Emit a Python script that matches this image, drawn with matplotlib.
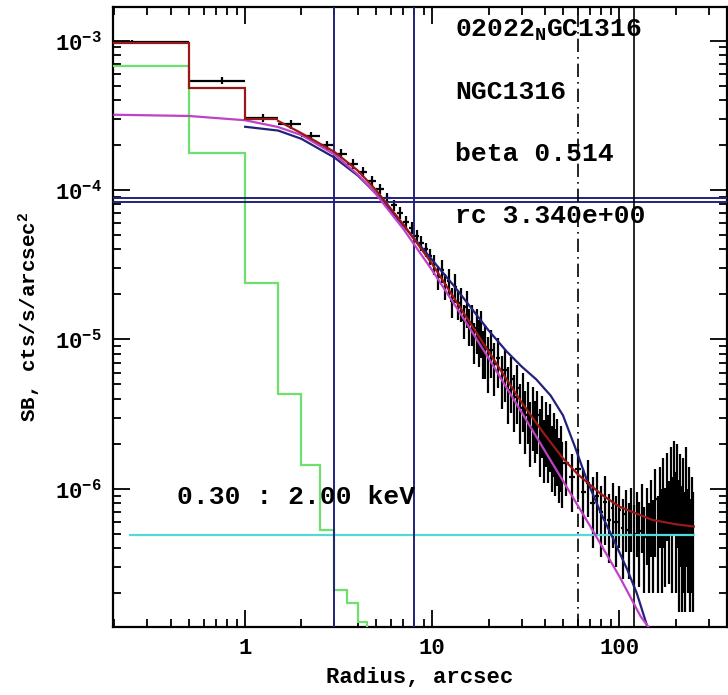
import numpy as np
import matplotlib
matplotlib.use('Agg')
import matplotlib.pyplot as plt
from matplotlib.ticker import FixedLocator, FixedFormatter, NullFormatter, LogLocator

plt.rcParams['font.family'] = ['Liberation Mono', 'DejaVu Sans']
plt.rcParams['font.weight'] = 'bold'
plt.rcParams['axes.labelweight'] = 'bold'
plt.rcParams['mathtext.fontset'] = 'custom'
plt.rcParams['mathtext.rm'] = 'Liberation Mono:bold'
plt.rcParams['mathtext.it'] = 'Liberation Mono:bold'
plt.rcParams['mathtext.bf'] = 'Liberation Mono:bold'

# --- surface brightness data (radius [arcsec], SB, error) ---
r_in = [0.25, 0.75, 1.25, 1.75, 2.25, 2.75, 3.25, 3.75, 4.25, 4.75,
        5.25, 5.75, 6.25, 6.75, 7.25, 7.75, 8.25, 8.75, 9.25, 9.75]
sb_in = [9.8e-4, 5.4e-4, 3.05e-4, 2.75e-4, 2.3e-4, 2.0e-4, 1.75e-4, 1.5e-4, 1.33e-4, 1.15e-4,
         1.02e-4, 8.8e-5, 7.9e-5, 7.0e-5, 6.1e-5, 5.6e-5, 4.9e-5, 4.4e-5, 4.0e-5, 3.6e-5]
err_in = [3e-5, 3e-5, 2e-5, 1.8e-5, 1.5e-5, 1.4e-5, 1.2e-5, 1.1e-5, 1.0e-5, 9e-6,
          8e-6, 7.5e-6, 7e-6, 6.5e-6, 6e-6, 5.5e-6, 5e-6, 5e-6, 4.5e-6, 4.5e-6]

r_mid = [10.25, 10.75, 11.25, 11.75, 12.25, 12.75, 13.25, 13.75, 14.25, 14.75,
         15.25, 15.75, 16.25, 16.75, 17.25, 17.75, 18.25, 18.75, 19.25, 19.75]
sb_mid = [3.2e-5, 2.6e-5, 2.9e-5, 2.3e-5, 2.45e-5, 1.8e-5, 2.25e-5, 1.75e-5, 1.75e-5, 1.35e-5,
          1.65e-5, 1.25e-5, 1.3e-5, 9.8e-6, 1.2e-5, 1.0e-5, 1.15e-5, 8.4e-6, 8.9e-6, 7.4e-6]
err_mid = [5e-6, 4.5e-6, 5e-6, 4.5e-6, 5e-6, 4e-6, 5e-6, 4e-6, 4.5e-6, 3.5e-6,
           4.5e-6, 3.5e-6, 4e-6, 3e-6, 4e-6, 3.5e-6, 4e-6, 3e-6, 3.5e-6, 3e-6]

r_out = [20.5, 21.5, 22.5, 23.5, 24.5, 25.5, 26.5, 27.5, 28.5, 29.5,
         30.5, 31.5, 32.5, 33.5, 34.5, 35.5, 36.5, 37.5, 38.5, 39.5,
         40.5, 41.5, 42.5, 43.5, 44.5, 45.5, 46.5, 47.5, 48.5, 49.5]
sb_out = [8.5e-6, 6.8e-6, 7.5e-6, 5.6e-6, 6.2e-6, 4.6e-6, 5.4e-6, 4.1e-6, 4.7e-6, 3.5e-6,
          4.2e-6, 3.1e-6, 3.6e-6, 2.6e-6, 3.3e-6, 2.7e-6, 3.1e-6, 2.3e-6, 2.9e-6, 2.0e-6,
          2.6e-6, 2.1e-6, 2.5e-6, 1.8e-6, 2.2e-6, 1.7e-6, 2.0e-6, 1.5e-6, 1.8e-6, 1.4e-6]
err_out = [3.0e-6, 2.6e-6, 2.8e-6, 2.2e-6, 2.4e-6, 1.9e-6, 2.2e-6, 1.7e-6, 2.0e-6, 1.5e-6,
           1.8e-6, 1.4e-6, 1.6e-6, 1.2e-6, 1.5e-6, 1.2e-6, 1.4e-6, 1.1e-6, 1.3e-6, 0.9e-6,
           1.2e-6, 1.0e-6, 1.2e-6, 0.85e-6, 1.0e-6, 0.8e-6, 0.95e-6, 0.7e-6, 0.85e-6, 0.65e-6]

r_far = [52, 56, 60, 64, 68, 72, 76, 80, 84, 88, 92, 96, 100, 104, 108, 112, 116, 120, 124, 128,
         132, 136, 140, 144, 148, 152, 156, 160, 164, 168, 172, 176, 180, 184, 188, 192, 196, 200,
         204, 208, 212, 216, 220, 224, 228, 232, 236, 240, 244, 248]
sb_far = [1.5e-6, 1.2e-6, 1.35e-6, 9.5e-7, 1.1e-6, 8.0e-7, 9.0e-7, 7.0e-7, 8.2e-7, 6.2e-7,
          7.5e-7, 6.0e-7, 7.2e-7, 5.5e-7, 6.8e-7, 5.3e-7, 7.0e-7, 5.0e-7, 6.5e-7, 5.2e-7,
          7.2e-7, 4.8e-7, 6.6e-7, 5.0e-7, 7.5e-7, 5.2e-7, 8.5e-7, 5.5e-7, 9.0e-7, 6.0e-7,
          1.0e-6, 6.2e-7, 1.1e-6, 6.8e-7, 1.2e-6, 7.0e-7, 1.3e-6, 7.5e-7, 1.2e-6, 6.5e-7,
          1.0e-6, 6.0e-7, 9.0e-7, 5.5e-7, 1.1e-6, 6.0e-7, 8.0e-7, 5.0e-7, 7.0e-7, 5.5e-7]
err_far = [6e-7, 5e-7, 5e-7, 4e-7, 4.5e-7, 4e-7, 4e-7, 3.5e-7, 4e-7, 3e-7,
           3.5e-7, 3e-7, 3.2e-7, 3e-7, 3e-7, 2.8e-7, 3.2e-7, 2.8e-7, 3e-7, 3e-7,
           3.5e-7, 2.8e-7, 3.5e-7, 3e-7, 4e-7, 3.2e-7, 5e-7, 3.5e-7, 5e-7, 4e-7,
           6e-7, 4e-7, 6.5e-7, 4.5e-7, 7e-7, 5e-7, 8e-7, 5.5e-7, 8e-7, 5e-7,
           7e-7, 4.5e-7, 7e-7, 4e-7, 8e-7, 4e-7, 6e-7, 3.5e-7, 5e-7, 4e-7]

# --- model curves ---
red_edges = [0.15, 0.5, 1.0, 1.5]
red_steps = [9.6e-4, 4.8e-4, 3.0e-4]
red_r = [1.5, 2, 3, 4, 5, 7, 10, 15, 20, 25, 30, 40, 50, 60, 80, 100, 150, 200, 250]
red_sb = [2.9e-4, 2.4e-4, 1.8e-4, 1.35e-4, 1.0e-4, 5.9e-5, 3.2e-5, 1.45e-5, 8.3e-6, 5.4e-6,
          3.8e-6, 2.3e-6, 1.6e-6, 1.25e-6, 9.2e-7, 7.6e-7, 6.2e-7, 5.8e-7, 5.6e-7]

green_edges = [0.15, 0.5, 1.0, 1.5, 2.0, 2.5, 3.0, 3.5, 4.0, 4.5, 5.0]
green_steps = [6.75e-4, 1.77e-4, 2.4e-5, 4.3e-6, 1.45e-6, 5.3e-7, 2.1e-7, 1.73e-7, 1.29e-7, 6e-8]

mag_r = [0.2, 0.5, 1, 1.5, 2, 3, 4, 5, 7, 10, 15, 20, 30, 50, 70, 100, 130, 150]
mag_sb = [3.19e-4, 3.13e-4, 2.93e-4, 2.64e-4, 2.33e-4, 1.73e-4, 1.27e-4, 9.4e-5, 5.5e-5, 2.9e-5,
          1.33e-5, 7.5e-6, 3.26e-6, 1.13e-6, 5.6e-7, 2.6e-7, 1.4e-7, 1.1e-7]

navy_r = [1.0, 1.5, 2, 3, 4, 5, 7, 10, 13, 16, 20, 25, 30, 36, 43, 50, 58, 67, 80, 93, 110, 124, 141, 150]
navy_sb = [2.65e-4, 2.5e-4, 2.2e-4, 1.65e-4, 1.25e-4, 9.5e-5, 5.8e-5, 3.4e-5, 2.3e-5, 1.65e-5,
           1.15e-5, 8.3e-6, 6.6e-6, 5.4e-6, 4.2e-6, 3.1e-6, 1.9e-6, 1.15e-6, 6.8e-7, 4.6e-7,
           2.9e-7, 2.0e-7, 1.2e-7, 9e-8]

bkg_level = 4.9e-7
bkg_range = [0.24, 255]
core_levels = [8.9e-5, 8.3e-5]
navy_vlines = [3.0, 8.0]
dashdot_vline = 60
solid_vline = 120

labels = ['02022$_{\\rm N}$GC1316', 'NGC1316', 'beta 0.514', 'rc 3.340e+00']


def main() -> None:
    fig = plt.figure(figsize=(7.28, 6.95), dpi=100)
    ax = fig.add_axes([0.1548, 0.0978, 0.8438, 0.8917])
    ax.set_xscale('log')
    ax.set_yscale('log')

    # data with error bars
    for r, sb, err, dr in [(r_in, sb_in, err_in, 0.25), (r_mid, sb_mid, err_mid, 0.25),
                           (r_out, sb_out, err_out, 0.5), (r_far, sb_far, err_far, 2.0)]:
        ax.errorbar(r, sb, yerr=err, xerr=dr, fmt='none', ecolor='black',
                    elinewidth=1.6, capsize=0, zorder=3)

    ax.stairs(green_steps, green_edges, baseline=None, color='#6ee06e', linewidth=1.6, zorder=4)
    ax.plot(navy_r, navy_sb, color='#22227a', linewidth=1.6, zorder=5)
    ax.plot(mag_r, mag_sb, color='#c040c8', linewidth=1.6, zorder=5)
    ax.stairs(red_steps, red_edges, baseline=None, color='#9a1818', linewidth=1.6, zorder=6)
    ax.plot(red_r, red_sb, color='#9a1818', linewidth=1.6, zorder=6)

    ax.hlines(bkg_level, bkg_range[0], bkg_range[1], color='#55d8d8', linewidth=1.6, zorder=4)
    for lev in core_levels:
        ax.axhline(lev, color='#22227a', linewidth=1.4, zorder=4)
    for xv in navy_vlines:
        ax.axvline(xv, color='#22227a', linewidth=1.4, zorder=4)
    ax.axvline(dashdot_vline, color='black', linewidth=1.2, linestyle=(0, (8, 3, 1, 3)), zorder=4)
    ax.axvline(solid_vline, color='black', linewidth=1.2, zorder=4)

    ax.set_xlim(0.196, 376)
    ax.set_ylim(1.19e-7, 1.67e-3)

    ax.xaxis.set_major_locator(FixedLocator([1, 10, 100]))
    ax.xaxis.set_major_formatter(FixedFormatter(['1', '10', '100']))
    ax.xaxis.set_minor_locator(LogLocator(base=10, subs=np.arange(2, 10), numticks=20))
    ax.xaxis.set_minor_formatter(NullFormatter())
    ax.yaxis.set_major_locator(FixedLocator([1e-6, 1e-5, 1e-4, 1e-3]))
    ax.yaxis.set_major_formatter(FixedFormatter(['10$^{-6}$', '10$^{-5}$', '10$^{-4}$', '10$^{-3}$']))
    ax.yaxis.set_minor_locator(LogLocator(base=10, subs=np.arange(2, 10), numticks=20))
    ax.yaxis.set_minor_formatter(NullFormatter())

    ax.tick_params(which='both', direction='in', top=True, right=True, width=1.3, colors='black')
    ax.tick_params(which='major', length=12, labelsize=16, pad=8)
    ax.tick_params(which='minor', length=6)
    for s in ax.spines.values():
        s.set_linewidth(1.6)

    ax.set_xlabel('Radius, arcsec', fontsize=16, labelpad=6)
    ax.set_ylabel('SB, cts/s/arcsec$^2$', fontsize=15, labelpad=8)

    for i, txt in enumerate(labels):
        fig.text(455 / 728, 1 - (30 + 62 * i) / 695, txt, fontsize=19, va='center', ha='left')
    fig.text(177 / 728, 1 - 497 / 695, '0.30 : 2.00 keV', fontsize=19, va='center', ha='left')

    fig.savefig('out.png', dpi=100)


if __name__ == '__main__':
    main()
